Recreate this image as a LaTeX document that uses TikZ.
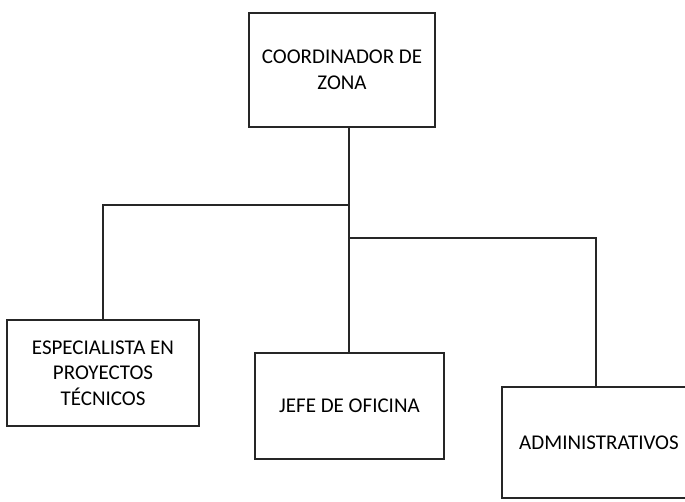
\documentclass[tikz,border=0pt]{standalone}
\usepackage{fontspec}
\setmainfont{Carlito}
\begin{document}
\begin{tikzpicture}[x=1pt,y=-1pt,
  box/.style={draw=black!85, line width=1.3pt, rectangle, align=center,
    font=\fontsize{21}{25.5}\selectfont, inner sep=0pt},
  link/.style={draw=black!85, line width=1.3pt}]
\useasboundingbox (0,0) rectangle (685,501);
\clip (0,0) rectangle (685,501);
\node[box, minimum width=186pt, minimum height=114pt] (top) at (342,70) {COORDINADOR DE\\ZONA};
\node[box, minimum width=192pt, minimum height=106pt] (esp) at (103,373) {ESPECIALISTA EN\\PROYECTOS\\TÉCNICOS};
\node[box, minimum width=189pt, minimum height=106pt] (jefe) at (349.5,406) {JEFE DE OFICINA};
\node[box, minimum width=194pt, minimum height=111pt] (adm) at (599,442.5) {ADMINISTRATIVOS};
\coordinate (j1) at (349,205);
\coordinate (j2) at (349,238);
\draw[link] (top.south -| j1) -- (jefe.north -| j1);
\draw[link] (j1) -| (esp.north);
\draw[link] (j2) -| ([xshift=-3pt]adm.north);
\end{tikzpicture}
\end{document}
